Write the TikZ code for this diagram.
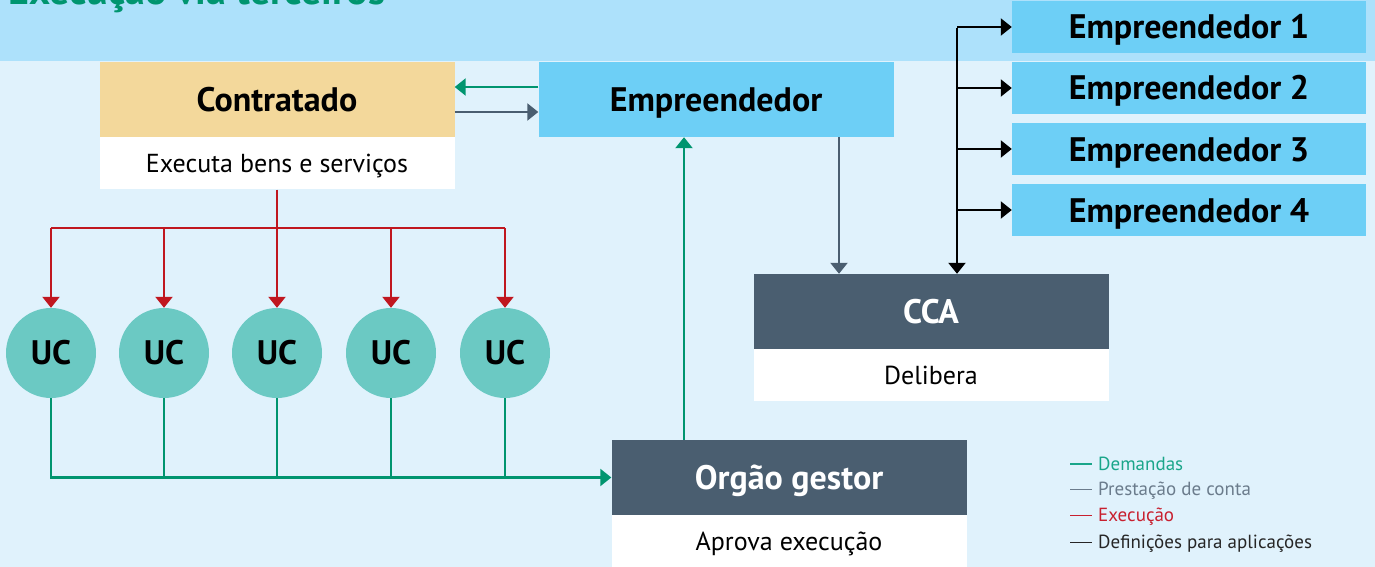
\documentclass[tikz,border=0pt]{standalone}
\usepackage{fontspec}
\setmainfont{PT Sans}
\usepackage{tikz}
\usetikzlibrary{positioning}
\usetikzlibrary{arrows.meta}

\definecolor{bandblue}{HTML}{ADE1FB}
\definecolor{paleblue}{HTML}{E0F2FC}
\definecolor{tan}{HTML}{F3D89B}
\definecolor{sky}{HTML}{6DCFF6}
\definecolor{slate}{HTML}{4A5E70}
\definecolor{teal}{HTML}{6BC9C3}
\definecolor{demgreen}{HTML}{00956F}
\definecolor{exered}{HTML}{C0171F}
\definecolor{leggreen}{HTML}{1AA68A}
\definecolor{leggray}{HTML}{6B7C8C}
\definecolor{legred}{HTML}{C8202F}

\newcommand{\legdash}{\rule[0.3em]{22pt}{1.6pt}\hspace{6pt}}

\tikzset{
  head/.style={minimum width=355pt,minimum height=75pt,inner sep=0pt,
    text height=24pt,text depth=0pt,
    font=\bfseries\fontsize{34}{36}\selectfont},
  body/.style={fill=white,minimum width=355pt,minimum height=52pt,inner sep=0pt,
    text height=18pt,text depth=0pt,
    font=\fontsize{26}{28}\selectfont},
  emp/.style={fill=sky,minimum width=354pt,minimum height=52pt,inner sep=0pt,
    text height=24pt,text depth=0pt,
    font=\bfseries\fontsize{34}{36}\selectfont},
  uc/.style={circle,fill=teal,minimum size=90pt,inner sep=0pt,
    font=\bfseries\fontsize{34}{36}\selectfont},
  tip/.style={-{Triangle[length=11pt,width=17pt]}},
  dem/.style={draw=demgreen,line width=2.2pt},
  pre/.style={draw=slate,line width=2.2pt},
  exe/.style={draw=exered,line width=2.2pt},
  defi/.style={draw=black,line width=2.2pt},
  leg/.style={anchor=west,inner sep=0pt,font=\fontsize{19}{20}\selectfont}
}

\begin{document}
\begin{tikzpicture}[x=1pt,y=-1pt]
        \clip (0,0) rectangle (1375,567);
        \fill[paleblue] (0,0) rectangle (1375,567);
        \fill[bandblue] (0,0) rectangle (1375,61);
        \node[anchor=base west,inner sep=0pt,text=demgreen,
          font=\bfseries\fontsize{40}{42}\selectfont] (titulo) at (8,5) {Execução via terceiros};

        % boxes
        \node[head,fill=tan] (con) at (277,99.5) {Contratado};
        \node[body,below=0pt of con] (conb) {Executa bens e serviços};
        \node[head,fill=sky] (emp) at (716,99.5) {Empreendedor};
        \node[head,fill=slate,text=white] (cca) at (931,311.5) {CCA};
        \node[body,below=0pt of cca] (ccab) {Delibera};
        \node[head,fill=slate,text=white] (og) at (789,477.5) {Orgão gestor};
        \node[body,below=0pt of og] (ogb) {Aprova execução};
        \foreach \i in {1,...,4}
          \node[emp] (e\i) at (1189,{27+61*(\i-1)}) {Empreendedor \i};

        \node[uc] (uc1) at (51,353) {UC};
        \node[uc] (uc2) at (164,353) {UC};
        \node[uc] (uc3) at (277,353) {UC};
        \node[uc] (uc4) at (391,353) {UC};
        \node[uc] (uc5) at (505,353) {UC};

        % empreendedor / contratado
        \draw[dem,tip] ([yshift=12.5pt]emp.west) -- ([yshift=12.5pt]con.east);
        \draw[pre,tip] ([yshift=-12.5pt]con.east) -- ([yshift=-12.5pt]emp.west);
        \draw[pre,tip] ([xshift=123pt]emp.south) -- ([xshift=123pt]emp.south |- cca.north);
        \draw[dem,tip] ([xshift=-105pt]og.north) -- ([xshift=-105pt]og.north |- emp.south);

        % definicoes
        \coordinate (split) at (957,28);
        \draw[defi,tip] (split) -- (split |- cca.north);
        \foreach \i in {1,...,4}
          \draw[defi,tip] (split |- e\i.west) -- (e\i.west);

        % execucao
        \coordinate (rsplit) at (277,228);
        \draw[exe] (conb.south) -- (rsplit);
        \draw[exe] (rsplit -| uc1) -- (rsplit -| uc5);
        \foreach \i in {1,...,5}
          \draw[exe,tip] (rsplit -| uc\i) -- (uc\i.north);

        % demandas
        \draw[dem,tip] (uc1.south) |- (og.west);
        \foreach \i in {2,...,5}
          \draw[dem] (uc\i.south) -- (uc\i.south |- og.west);

        % legenda
        \node[leg,text=leggreen] (l1) at (1070,464) {\legdash Demandas};
        \node[leg,text=leggray] (l2) at (1070,491) {\legdash Prestação de conta};
        \node[leg,text=legred] (l3) at (1070,517) {\legdash Execução};
        \node[leg,text=black!85] (l4) at (1070,544) {\legdash Definições para aplicações};
      \end{tikzpicture}
\end{document}
